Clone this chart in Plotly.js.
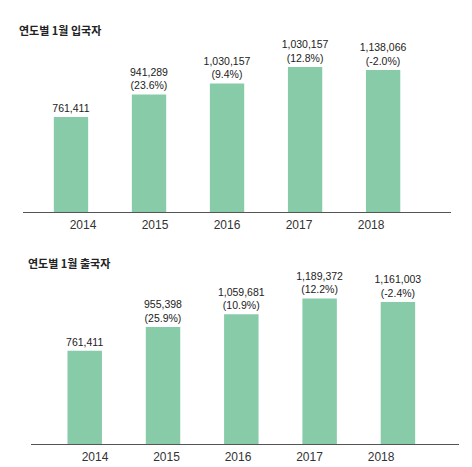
<!DOCTYPE html>
<html>
<head>
<meta charset="utf-8">
<script src="https://cdn.plot.ly/plotly-3.0.1.min.js"></script>
<style>
  html, body { margin: 0; padding: 0; background: #fff; }
  #plot { width: 472px; height: 467px; }
</style>
</head>
<body>
<div id="plot"></div>
<script>
// years shown on both panels
var years = ['2014', '2015', '2016', '2017', '2018'];

// January arrivals (bar heights)
var inbound = [761411, 941289, 1030157, 1161300, 1138066];
var inboundCountText = ['761,411', '941,289', '1,030,157', '1,030,157', '1,138,066'];
var inboundChangeText = ['', '23.6%', '9.4%', '12.8%', '-2.0%'];

// January departures
var outbound = [761411, 955398, 1059681, 1189372, 1161003];
var outboundCountText = ['761,411', '955,398', '1,059,681', '1,189,372', '1,161,003'];
var outboundChangeText = ['', '25.9%', '10.9%', '12.2%', '-2.4%'];

var barColor = '#87cba9';
var labelFont = { family: 'Liberation Sans, Arial, sans-serif', size: 10.5, color: '#222' };
var tickFont = { family: 'Liberation Sans, Arial, sans-serif', size: 12, color: '#333' };
var titleFont = { family: 'Noto Sans CJK KR, sans-serif', size: 11, color: '#222', weight: 700 };

function labels(counts, changes) {
  return counts.map(function (c, i) {
    return changes[i] ? c + '<br>(' + changes[i] + ')' : c;
  });
}

function barTrace(values, text, xa, ya) {
  return {
    type: 'bar', x: years, y: values, xaxis: xa, yaxis: ya,
    width: 0.44,
    // transparent outline only pushes the outside labels a bit higher
    marker: { color: barColor, line: { width: 8, color: 'rgba(0,0,0,0)' } },
    text: text, textposition: 'outside', textangle: 0,
    constraintext: 'none', cliponaxis: false,
    textfont: labelFont, hoverinfo: 'skip'
  };
}

var data = [
  barTrace(inbound, labels(inboundCountText, inboundChangeText), 'x', 'y'),
  barTrace(outbound, labels(outboundCountText, outboundChangeText), 'x2', 'y2'),
  // invisible traces so the year tick axes exist
  { type: 'scatter', mode: 'none', x: years, y: inbound, xaxis: 'x3', yaxis: 'y', hoverinfo: 'skip' },
  { type: 'scatter', mode: 'none', x: years, y: outbound, xaxis: 'x4', yaxis: 'y2', hoverinfo: 'skip' }
];

var annotations = [
  { xref: 'paper', yref: 'paper', x: 17 / 472, y: 1 - 30 / 467,
    xanchor: 'left', yanchor: 'middle', showarrow: false,
    text: '연도별 1월 입국자', font: titleFont },
  { xref: 'paper', yref: 'paper', x: 26 / 472, y: 1 - 263 / 467,
    xanchor: 'left', yanchor: 'middle', showarrow: false,
    text: '연도별 1월 출국자', font: titleFont }
];

var hiddenY = { visible: false, fixedrange: true, showgrid: false, zeroline: false };
var barAxis = { type: 'category', showticklabels: false, ticks: '', showgrid: false,
  zeroline: false, showline: true, linecolor: '#555', linewidth: 1 };
var tickAxis = { type: 'category', showgrid: false, zeroline: false, showline: false,
  ticks: '', tickfont: tickFont, ticklabelstandoff: 4 };

var layout = {
  width: 472, height: 467,
  margin: { l: 0, r: 0, t: 0, b: 0 },
  paper_bgcolor: '#fff', plot_bgcolor: '#fff',
  showlegend: false,
  xaxis: Object.assign({}, barAxis, { domain: [23 / 472, 451 / 472], anchor: 'y', range: [-0.615, 4.87] }),
  yaxis: Object.assign({}, hiddenY, { domain: [255 / 467, 427 / 467], anchor: 'x', range: [0, 1377700] }),
  xaxis2: Object.assign({}, barAxis, { domain: [31 / 472, 459 / 472], anchor: 'y2', range: [-0.686, 4.78] }),
  yaxis2: Object.assign({}, hiddenY, { domain: [23 / 467, 192 / 467], anchor: 'x2', range: [0, 1380700] }),
  xaxis3: Object.assign({}, tickAxis, { overlaying: 'x', anchor: 'y', range: [-0.833, 5.11] }),
  xaxis4: Object.assign({}, tickAxis, { overlaying: 'x2', anchor: 'y2', range: [-0.895, 5.09] }),
  annotations: annotations
};

Plotly.newPlot('plot', data, layout, { staticPlot: true, displayModeBar: false });
</script>
</body>
</html>
